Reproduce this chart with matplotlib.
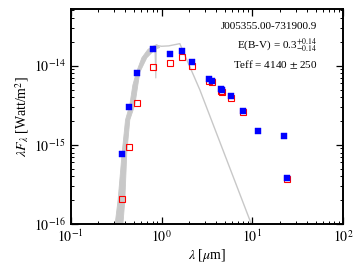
import matplotlib
matplotlib.use("Agg")
import matplotlib.pyplot as plt
from matplotlib.ticker import FixedLocator, LogLocator, NullFormatter
import numpy as np

plt.rcParams['font.family'] = ['Liberation Serif', 'DejaVu Serif']
plt.rcParams['mathtext.fontset'] = 'stix'

# photometry (micron, W/m^2)
obs_wave = [0.365, 0.44, 0.543, 0.796, 1.235, 1.66, 2.16, 3.32, 3.59, 4.5, 4.62, 5.8, 8.0, 11.5, 22.1, 24.3]
obs_flux = [7.7e-16, 3.0e-15, 8.1e-15, 1.63e-14, 1.41e-14, 1.52e-14, 1.11e-14, 6.8e-15, 6.5e-15,
            5.1e-15, 4.9e-15, 4.1e-15, 2.7e-15, 1.5e-15, 1.31e-15, 3.8e-16]
dered_wave = [0.365, 0.44, 0.543, 0.796, 1.235, 1.66, 2.16, 3.32, 3.59, 4.5, 4.62, 5.8, 8.0, 24.3]
dered_flux = [2.07e-16, 9.5e-16, 3.4e-15, 9.5e-15, 1.09e-14, 1.29e-14, 1.0e-14, 6.5e-15, 6.2e-15,
              4.8e-15, 4.6e-15, 3.9e-15, 2.6e-15, 3.7e-16]

# model spectrum envelope (shaded band) in the optical
band_upper_wave = [0.306, 0.332, 0.368, 0.401, 0.447, 0.483, 0.530, 0.607, 0.707, 0.782, 0.887]
band_upper_flux = [9.4e-17, 2.01e-16, 7.9e-16, 2.07e-15, 3.2e-15, 5.7e-15, 8.3e-15, 1.26e-14, 1.6e-14, 1.74e-14, 1.85e-14]
band_lower_wave = [0.374, 0.394, 0.414, 0.447, 0.508, 0.548, 0.577, 0.689, 0.843, 0.957]
band_lower_flux = [9.4e-17, 2.01e-16, 7.9e-16, 2.07e-15, 3.2e-15, 5.7e-15, 8.3e-15, 1.26e-14, 1.6e-14, 1.7e-14]
# model line beyond
model_wave = [0.887, 1.0, 1.2, 1.59, 2.64, 10.3]
model_flux = [1.8e-14, 1.76e-14, 1.78e-14, 1.9e-14, 4.97e-15, 8.5e-17]
spike_wave = [0.845, 0.865, 0.875]
spike_flux = [1.68e-14, 7.0e-15, 1.7e-14]

x_ticks = [0.1, 1, 10, 100]
x_labels = [r"$10^{-1}$", r"$10^{0}$", r"$10^{1}$", r"$10^{2}$"]
y_ticks = [1e-16, 1e-15, 1e-14]
y_labels = [r"$10^{-16}$", r"$10^{-15}$", r"$10^{-14}$"]

name_text = "J005355.00-731900.9"
ebv_text = r"E(B-V) = 0.3$^{+0.14}_{-0.14}$"
teff_text = r"Teff = 4140 $\pm$ 250"

fig = plt.figure(figsize=(3.54, 2.66), dpi=100)
ax = fig.add_axes([0.2, 0.158, 0.769, 0.808])

gray = '#c8c8c8'
poly_x = band_upper_wave + band_lower_wave[::-1]
poly_y = band_upper_flux + band_lower_flux[::-1]
ax.fill(poly_x, poly_y, color=gray, lw=0.6, ec=gray, zorder=1)
ax.plot(model_wave, model_flux, color=gray, lw=1.0, zorder=1)
ax.plot(spike_wave, spike_flux, color=gray, lw=0.8, zorder=1)

ax.plot(dered_wave, dered_flux, ls='none', marker='s', ms=4.0, mfc='none', mec='red', mew=0.8, zorder=2)
ax.plot(obs_wave, obs_flux, ls='none', marker='s', ms=4.0, mfc='blue', mec='blue', mew=0.3, zorder=3)

ax.set_xscale('log')
ax.set_yscale('log')
ax.set_xlim(0.1, 100)
ax.set_ylim(1e-16, 5.2e-14)
ax.set_xticks(x_ticks)
ax.set_xticklabels(x_labels)
ax.set_yticks(y_ticks)
ax.set_yticklabels(y_labels)
ax.xaxis.set_minor_locator(LogLocator(base=10, subs=np.arange(2, 10)))
ax.yaxis.set_minor_locator(LogLocator(base=10, subs=np.arange(2, 10)))
ax.xaxis.set_minor_formatter(NullFormatter())
ax.yaxis.set_minor_formatter(NullFormatter())

ax.tick_params(which='both', direction='in', top=True, right=True, labelsize=10)
ax.tick_params(which='major', length=5, width=0.9)
ax.tick_params(which='minor', length=2.5, width=0.7)
for s in ax.spines.values():
    s.set_linewidth(1.4)

ax.set_xlabel(r"$\lambda$ [$\mu$m]", fontsize=10, labelpad=1)
ax.set_ylabel(r"$\lambda F_\lambda$ [Watt/m$^2$]", fontsize=10, labelpad=2)

ax.text(0.905, 0.92, name_text, transform=ax.transAxes, ha='right', va='center', fontsize=8)
ax.text(0.905, 0.83, ebv_text, transform=ax.transAxes, ha='right', va='center', fontsize=8)
ax.text(0.905, 0.74, teff_text, transform=ax.transAxes, ha='right', va='center', fontsize=8)

fig.savefig("out.png", dpi=100)
